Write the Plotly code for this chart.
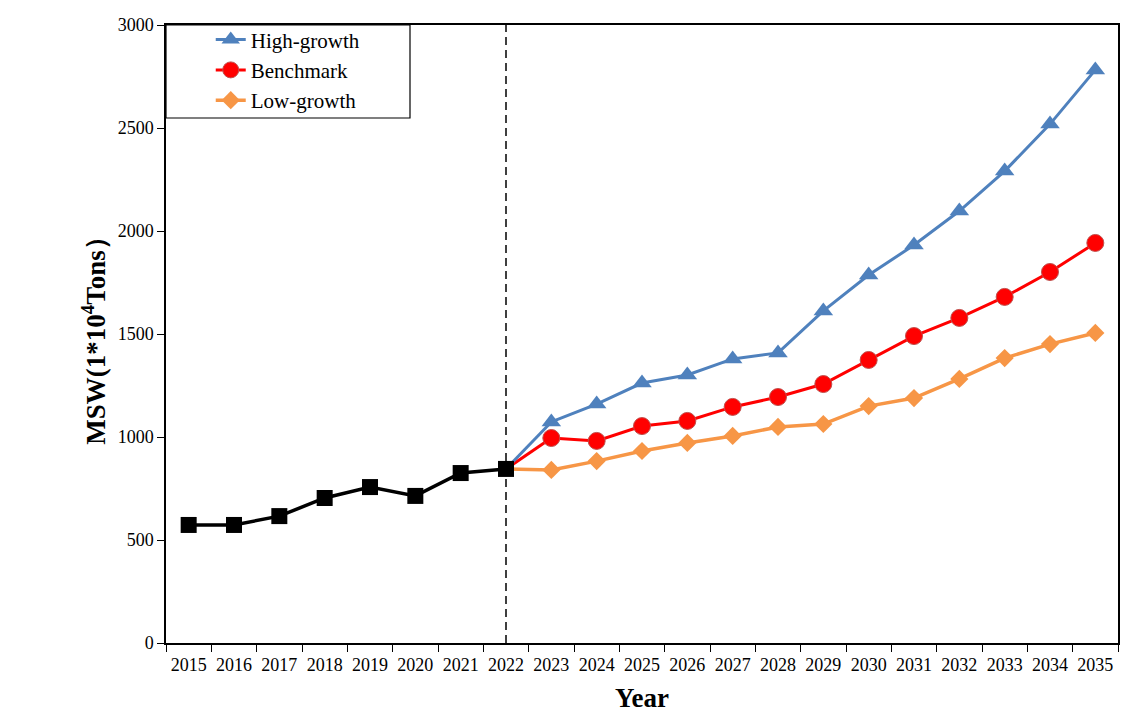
import plotly.graph_objects as go

years_hist = ["2015", "2016", "2017", "2018", "2019", "2020", "2021", "2022"]
hist_values = [573, 573, 616, 704, 757, 714, 825, 845]

years_proj = ["2023", "2024", "2025", "2026", "2027", "2028", "2029",
              "2030", "2031", "2032", "2033", "2034", "2035"]
high_growth = [1073, 1160, 1262, 1301, 1379, 1408, 1612, 1786, 1932, 2097, 2291, 2519, 2782]
benchmark = [995, 981, 1053, 1078, 1146, 1194, 1257, 1374, 1490, 1578, 1680, 1801, 1942]
low_growth = [840, 883, 932, 971, 1005, 1049, 1063, 1150, 1189, 1282, 1383, 1451, 1505]

all_years = years_hist + years_proj
y_ticks = [0, 500, 1000, 1500, 2000, 2500, 3000]

FONT = "Liberation Serif"
BLUE = "#4F81BD"
RED = "#FF0000"
ORANGE = "#F79646"

fig = go.Figure()

series = [
    ("High-growth", high_growth, BLUE, dict(symbol="triangle-up", size=17, color=BLUE), 3),
    ("Benchmark", benchmark, RED, dict(symbol="circle", size=17, color=RED,
                                        line=dict(color="#C0504D", width=1)), 3),
    ("Low-growth", low_growth, ORANGE, dict(symbol="diamond", size=14, color=ORANGE), 3.5),
]

# connectors from last historical point to first projection
for name, vals, col, mk, lw in series[::-1]:
    fig.add_trace(go.Scatter(
        x=[years_hist[-1], years_proj[0]], y=[hist_values[-1], vals[0]],
        mode="lines", line=dict(color=col, width=lw), showlegend=False, hoverinfo="skip"))

for name, vals, col, mk, lw in series[::-1]:
    fig.add_trace(go.Scatter(
        x=years_proj, y=vals, name=name, mode="lines+markers",
        line=dict(color=col, width=lw), marker=mk, showlegend=False))

# legend entries (ordered)
for name, vals, col, mk, lw in series:
    fig.add_trace(go.Scatter(
        x=[None], y=[None], name=name, mode="lines+markers",
        line=dict(color=col, width=lw), marker=mk, showlegend=True))

fig.add_trace(go.Scatter(
    x=years_hist, y=hist_values, mode="lines+markers", name="Historical",
    line=dict(color="black", width=3.5),
    marker=dict(symbol="square", size=16, color="black"), showlegend=False))

fig.add_shape(type="line", xref="x", yref="paper", x0=7, x1=7, y0=0, y1=1,
              line=dict(color="black", width=1.5, dash="8px,5px"), layer="below")

# legend box
fig.add_shape(type="rect", xref="paper", yref="paper",
              x0=0, x1=(410 - 166) / 952, y0=(643 - 118) / 618, y1=1,
              line=dict(color="black", width=1.2), fillcolor="white", layer="below")

fig.update_layout(
    width=1134, height=713,
    margin=dict(l=166, r=16, t=25, b=70, autoexpand=False),
    paper_bgcolor="white", plot_bgcolor="white",
    font=dict(family=FONT, size=18, color="black"),
    legend=dict(x=0.047, y=1.009, xanchor="left", yanchor="top",
                bgcolor="rgba(0,0,0,0)", borderwidth=0,
                font=dict(family=FONT, size=21, color="black"),
                tracegroupgap=0, itemwidth=30),
    xaxis=dict(
        type="category", categoryorder="array", categoryarray=all_years,
        tickson="boundaries", ticks="outside", ticklen=7, tickcolor="black",
        showline=True, linecolor="black", linewidth=1.5, mirror=True,
        showgrid=False, zeroline=False, range=[-0.5, len(all_years) - 0.5],
        automargin=False, ticklabelstandoff=5,
        tickfont=dict(family=FONT, size=18, color="black"),
        title=dict(text="<b>Year</b>", font=dict(family=FONT, size=27, color="black"),
                   standoff=16),
    ),
    yaxis=dict(
        range=[0, 3000], tickvals=y_ticks, ticks="outside", ticklen=7, tickcolor="black",
        showline=True, linecolor="black", linewidth=1.5, mirror=True,
        showgrid=False, zeroline=False, automargin=False,
        tickfont=dict(family=FONT, size=18, color="black"),
        title=dict(text="<b>MSW(1*10<sup>4</sup>Tons）</b>",
                   font=dict(family=FONT, size=27, color="black"), standoff=4),
    ),
)

fig.write_html("out.html")
